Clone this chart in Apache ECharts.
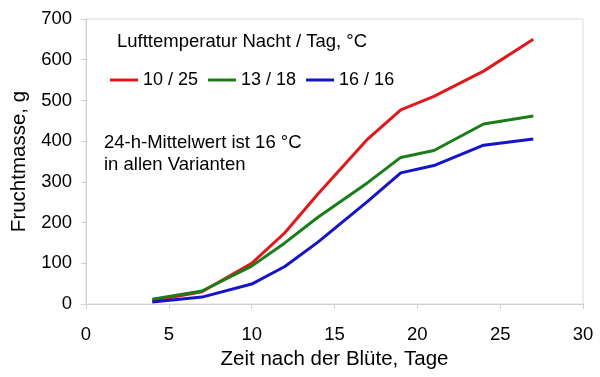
<!DOCTYPE html>
<html><head><meta charset="utf-8">
<script src="https://cdn.jsdelivr.net/npm/echarts@6/dist/echarts.min.js"></script>
<style>html,body{margin:0;padding:0;background:#fff}#c{width:600px;height:377px}</style>
</head><body><div id="c"></div>
<script>
const days = [4, 7, 10, 12, 14, 17, 19, 21, 24, 27];
const s1025 = [8, 30, 100, 175, 270, 405, 477, 510, 572, 650];
const s1318 = [12, 32, 93, 150, 213, 298, 360, 377, 442, 462];
const s1616 = [5, 17, 49, 92, 152, 252, 322, 340, 390, 405];
const seriesNames = ['10 / 25', '13 / 18', '16 / 16'];
const legendTitle = 'Lufttemperatur Nacht / Tag, °C';
const noteLines = ['24-h-Mittelwert ist 16 °C', 'in allen Varianten'];
const xName = 'Zeit nach der Blüte, Tage';
const yName = 'Fruchtmasse, g';

const F = '"Liberation Sans", Arial, sans-serif';
const colors = ['#e0191c', '#1a7d1a', '#1414c8'];
const pts = a => days.map((d, i) => [d, a[i]]);
const chart = echarts.init(document.getElementById('c'));
chart.setOption({
  animation: false,
  backgroundColor: '#fff',
  textStyle: { fontFamily: F },
  grid: { left: 86, right: 17, top: 19, bottom: 73, show: true, borderColor: '#dcdcdc', borderWidth: 1 },
  xAxis: {
    type: 'value', min: 0, max: 30, interval: 5,
    name: xName, nameLocation: 'middle', nameGap: 42,
    nameTextStyle: { fontSize: 20.5, color: '#000', fontFamily: F },
    axisLine: { lineStyle: { color: '#d0d0d0', width: 1 } },
    axisTick: { show: true, length: 5, lineStyle: { color: '#d0d0d0' } },
    axisLabel: { fontSize: 18.5, color: '#000', margin: 21, fontFamily: F },
    splitLine: { show: false }
  },
  yAxis: {
    type: 'value', min: 0, max: 700, interval: 100,
    name: yName, nameLocation: 'middle', nameGap: 50,
    nameTextStyle: { fontSize: 20.5, color: '#000', fontFamily: F },
    axisLine: { show: true, lineStyle: { color: '#d0d0d0', width: 1 } },
    axisTick: { show: true, length: 5, lineStyle: { color: '#d0d0d0' } },
    axisLabel: { fontSize: 18.5, color: '#000', margin: 14, fontFamily: F },
    splitLine: { show: false }
  },
  legend: {
    left: 105, top: 66, itemWidth: 28, itemHeight: 3, itemGap: 10, icon: 'rect',
    textStyle: { fontSize: 18, color: '#000', fontFamily: F },
    data: seriesNames
  },
  graphic: [
    { type: 'text', left: 117, top: 32, style: { text: legendTitle, font: '18.5px ' + F, fill: '#000' } },
    { type: 'text', left: 104, top: 132, style: { text: noteLines.join('\n'), font: '18.5px ' + F, fill: '#000', lineHeight: 21.7 } }
  ],
  series: [s1025, s1318, s1616].map((d, i) => ({
    name: seriesNames[i], type: 'line', data: pts(d), showSymbol: false, symbol: 'none',
    lineStyle: { width: 3, color: colors[i] }, itemStyle: { color: colors[i] }
  }))
});
</script></body></html>
